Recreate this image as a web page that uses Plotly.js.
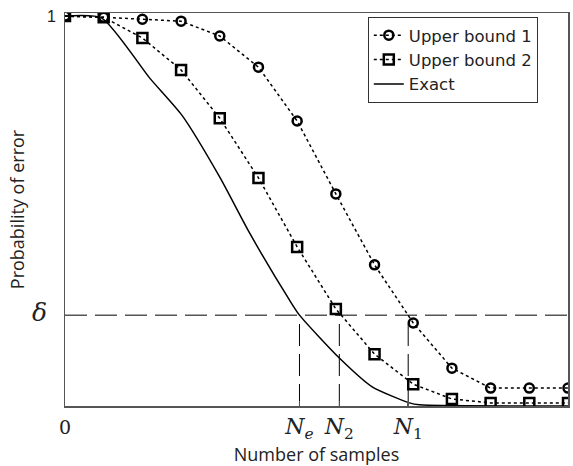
<!DOCTYPE html>
<html>
<head>
<meta charset="utf-8">
<script src="https://cdn.plot.ly/plotly-3.0.1.min.js"></script>
<style>html,body{margin:0;padding:0;background:#fff;}#chart{width:573px;height:466px;}</style>
</head>
<body>
<div id="chart"></div>
<script>
// sample index (number of samples, arbitrary units)
var sampleIdx = [0,1,2,3,4,5,6,7,8,9,10,11,12,13];
var upperBound1 = [1.0,0.997,0.992,0.987,0.949,0.869,0.731,0.544,0.362,0.213,0.097,0.046,0.046,0.046];
var upperBound2 = [1.0,0.997,0.944,0.862,0.738,0.585,0.408,0.249,0.133,0.056,0.018,0.008,0.008,0.008];
var exactX = [0,0.95,2.19,3.02,4.0,4.77,5.8,6.06,7.09,7.94,8.9,9.16,13];
var exactY = [1.0,0.995,0.841,0.746,0.587,0.444,0.272,0.233,0.123,0.049,0.008,0.003,0.0];
var delta = 0.233;
var Ne = 6.06, N2 = 7.09, N1 = 8.87;
var xTickVals = [0, Ne, N2, N1];
var xTickText = ['<span style="font-size:19px">0</span>','<i>N<sub>e</sub></i>','<i>N</i><sub>2</sub>','<i>N</i><sub>1</sub>'];
var yTickVals = [delta, 1];
var yTickText = ['<span style="font-family:\'DejaVu Serif\';font-style:italic;font-size:25px">δ</span>\u00a0\u00a0\u00a0', '1\u00a0'];

var dashStyle = {color:'#000', width:1, dash:'22px,8px'};
var traces = [
  {x:sampleIdx, y:upperBound1, name:'Upper bound 1', mode:'lines+markers',
   line:{color:'#000', width:1.5, dash:'dot'},
   marker:{symbol:'circle-open', size:9, color:'#000', line:{width:2.5, color:'#000'}}},
  {x:sampleIdx, y:upperBound2, name:'Upper bound 2', mode:'lines+markers',
   line:{color:'#000', width:1.5, dash:'dot'},
   marker:{symbol:'square-open', size:10, color:'#000', line:{width:2.5, color:'#000'}}},
  {x:exactX, y:exactY, name:'Exact', mode:'lines', line:{color:'#000', width:1.5, shape:'spline', smoothing:0.6}},
  {x:[0,13], y:[delta,delta], mode:'lines', showlegend:false, hoverinfo:'skip', line:dashStyle},
  {x:[Ne,Ne], y:[0,delta], mode:'lines', showlegend:false, hoverinfo:'skip', line:dashStyle},
  {x:[N2,N2], y:[0,delta], mode:'lines', showlegend:false, hoverinfo:'skip', line:dashStyle},
  {x:[N1,N1], y:[0,delta], mode:'lines', showlegend:false, hoverinfo:'skip', line:dashStyle}
];

var layout = {
  width:573, height:466,
  margin:{l:65, r:5, t:13, b:60},
  paper_bgcolor:'#fff', plot_bgcolor:'#fff',
  showlegend:true,
  legend:{x:0.602, y:0.99, xanchor:'left', yanchor:'top', bgcolor:'#fff',
          bordercolor:'#333', borderwidth:1,
          font:{family:'DejaVu Sans', size:16.5, color:'#222'},
          tracegroupgap:0, itemwidth:30},
  xaxis:{range:[0,13], showgrid:false, zeroline:false, showline:true, mirror:true,
         linecolor:'#555', linewidth:1.5, ticks:'inside', ticklen:5, tickcolor:'#555', tickwidth:1.5,
         tickmode:'array', tickvals:xTickVals, ticktext:xTickText,
         tickfont:{family:'DejaVu Serif', size:22, color:'#222'},
         title:{text:'Number of samples', font:{family:'Open Sans', size:18, color:'#222'}, standoff:8}},
  yaxis:{range:[0,1.008], showgrid:false, zeroline:false, showline:true, mirror:true,
         linecolor:'#555', linewidth:1.5, ticks:'',
         tickmode:'array', tickvals:yTickVals, ticktext:yTickText,
         tickfont:{family:'Liberation Sans, Arial', size:16, color:'#222'},
         title:{text:'Probability of error', font:{family:'Open Sans', size:18, color:'#222'}, standoff:2}}
};
Plotly.newPlot('chart', traces, layout, {displayModeBar:false, staticPlot:true});
</script>
</body>
</html>
